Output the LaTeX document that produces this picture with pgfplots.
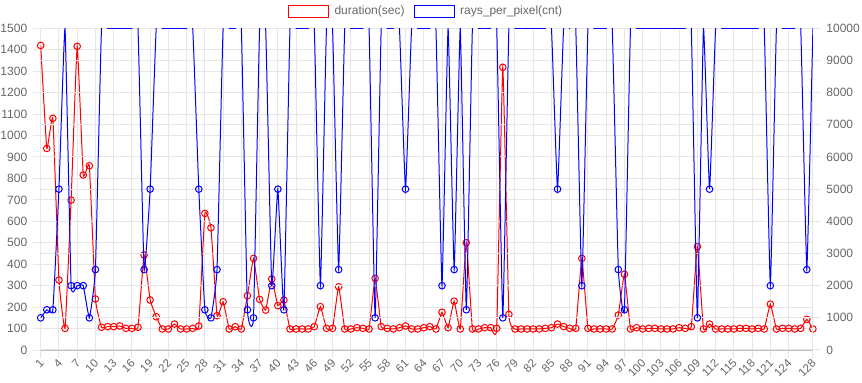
\documentclass[border=0pt]{standalone}
\usepackage{pgfplots}
\usepackage{pgfplotstable}
\pgfplotsset{compat=1.18}
\usepackage{fontspec}
\setmainfont{Liberation Sans}
\definecolor{textgray}{RGB}{102,102,102}
\definecolor{gridc}{RGB}{230,230,230}
\definecolor{zeroc}{RGB}{190,190,190}

\pgfplotstableread{
x dur rays
1 1420 1000
2 940 1250
3 1080 1250
4 326 5000
5 101 10000
6 699 2000
7 1416 2000
8 816 2000
9 859 1000
10 238 2500
11 106 10000
12 109 10000
13 109 10000
14 112 10000
15 101 10000
16 101 10000
17 106 10000
18 443 2500
19 233 5000
20 155 10000
21 98 10000
22 98 10000
23 121 10000
24 98 10000
25 98 10000
26 101 10000
27 112 5000
28 637 1250
29 570 1000
30 160 2500
31 225 10000
32 98 10000
33 109 10000
34 98 10000
35 253 1250
36 427 1000
37 236 10000
38 186 10000
39 331 2000
40 207 5000
41 233 1250
42 98 10000
43 98 10000
44 98 10000
45 98 10000
46 109 10000
47 202 2000
48 101 10000
49 101 10000
50 295 2500
51 98 10000
52 98 10000
53 104 10000
54 101 10000
55 98 10000
56 334 1000
57 109 10000
58 101 10000
59 98 10000
60 104 10000
61 112 5000
62 98 10000
63 98 10000
64 104 10000
65 109 10000
66 98 10000
67 176 2000
68 104 10000
69 228 2500
70 98 10000
71 500 1250
72 98 10000
73 98 10000
74 104 10000
75 104 10000
76 101 10000
77 1318 1000
78 166 10000
79 98 10000
80 98 10000
81 98 10000
82 98 10000
83 98 10000
84 101 10000
85 104 10000
86 121 5000
87 109 10000
88 101 10000
89 101 10000
90 427 2000
91 101 10000
92 98 10000
93 98 10000
94 98 10000
95 98 10000
96 163 2500
97 353 1250
98 98 10000
99 104 10000
100 98 10000
101 101 10000
102 101 10000
103 98 10000
104 98 10000
105 98 10000
106 104 10000
107 101 10000
108 109 10000
109 482 1000
110 98 10000
111 121 5000
112 98 10000
113 98 10000
114 98 10000
115 98 10000
116 101 10000
117 101 10000
118 98 10000
119 101 10000
120 98 10000
121 214 2000
122 98 10000
123 101 10000
124 101 10000
125 98 10000
126 101 10000
127 143 2500
128 98 10000
}\datatable

\pgfplotsset{
  base/.style={
    at={(0bp,0bp)}, anchor=south west,
    scale only axis, width=772.2bp, height=321.7bp,
    xmin=1, xmax=128,
    tick label style={font=\fontsize{12bp}{14bp}\selectfont, text=textgray},
    /pgf/number format/assume math mode=true,
    /pgf/number format/1000 sep={},
    scaled y ticks=false, scaled x ticks=false,
    tick align=outside, major tick length=8bp,
    tick style={color=gridc, line width=1bp},
    major grid style={color=gridc, line width=1bp},
    axis line style={color=gridc, line width=1bp},
    clip mode=individual,
  },
}

\begin{document}
\begin{tikzpicture}
\useasboundingbox (-40.7bp,-33bp) rectangle (821.3bp,350bp);
\begin{axis}[base,
  ymin=0, ymax=1500,
  ytick={0,100,...,1500},
  xtick={1,4,7,10,13,16,19,22,25,28,31,34,37,40,43,46,49,52,55,58,61,64,67,70,73,76,79,82,85,88,91,94,97,100,103,106,109,112,115,118,121,124,128},
  xmajorgrids, ymajorgrids,
  axis x line*=bottom, axis y line*=left,
  x axis line style={color=zeroc},
  xticklabel style={rotate=45, anchor=east, yshift=-3bp, xshift=2bp, font=\fontsize{11.5bp}{13bp}\selectfont},
  yticklabel style={xshift=-2bp},
]
\addplot[red, line width=1bp, smooth, tension=0.2, mark=o, mark size=3.3bp,
  mark options={fill=white, line width=1bp}] table[x=x, y=dur] {\datatable};
\end{axis}
\begin{axis}[base,
  ymin=0, ymax=10000,
  ytick={0,1000,...,10000},
  ymajorgrids,
  axis y line*=right, axis x line=none,
  xtick=\empty,
  yticklabel style={xshift=2bp},
]
\addplot[blue, line width=1bp, smooth, tension=0.2] table[x=x, y=rays] {\datatable};
\addplot[blue, only marks, mark=o, mark size=3.3bp,
  mark options={fill=white, line width=1bp},
  restrict y to domain=0:9999] table[x=x, y=rays] {\datatable};
\end{axis}
% legend
\draw[red, line width=1bp, fill=white] (247.6bp,332.6bp) rectangle (287.6bp,344bp);
\node[anchor=west, inner sep=0pt, text=textgray, font=\fontsize{12bp}{14bp}\selectfont] at (293.6bp,338.3bp) {duration(sec)};
\draw[blue, line width=1bp, fill=white] (373.3bp,332.6bp) rectangle (413.3bp,344bp);
\node[anchor=west, inner sep=0pt, text=textgray, font=\fontsize{12bp}{14bp}\selectfont] at (419.3bp,338.3bp) {rays\_per\_pixel(cnt)};
\end{tikzpicture}
\end{document}
